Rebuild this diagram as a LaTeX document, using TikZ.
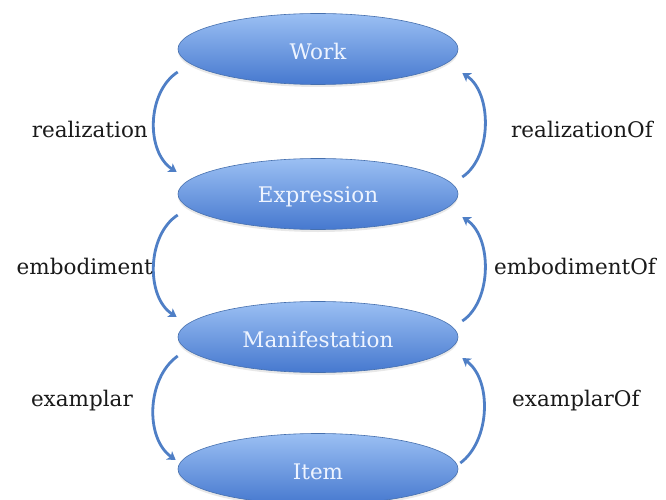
\documentclass[tikz,border=0pt]{standalone}
\usepackage{fontspec}
\setmainfont{DejaVu Serif}
\usetikzlibrary{shapes.geometric,arrows.meta,calc,shadows}
\definecolor{elltop}{HTML}{9BBFF3}
\definecolor{ellbot}{HTML}{4679CF}
\definecolor{elldraw}{HTML}{4670AE}
\definecolor{arrowc}{HTML}{4F7FC6}
\definecolor{txtin}{HTML}{EEF4FF}
\definecolor{txtout}{HTML}{1A1A1A}
\newcommand\lowtxt[1]{\raisebox{-2.5pt}[\height][\depth]{#1}}
\begin{document}
\begin{tikzpicture}[x=1pt,y=-1pt,
  entity/.style={ellipse, minimum width=280pt, minimum height=71pt, inner sep=0pt,
    top color=elltop, bottom color=ellbot, draw=elldraw, line width=0.6pt,
    text=txtin, font=\fontsize{21.5}{24}\selectfont,
    drop shadow={opacity=0.18, shadow xshift=0pt, shadow yshift=-2.5pt}},
  rel/.style={draw=arrowc, line width=2.8pt, -{Stealth[length=8pt,width=10pt,inset=2pt]}},
  lbl/.style={text=txtout, font=\fontsize{21.5}{24}\selectfont, inner sep=0pt}]
\useasboundingbox (0,0) rectangle (666,500);
\fill[white] (0,0) rectangle (666,500);

\node[entity] (work) at (318,49) {\lowtxt{Work}};
\node[entity] (expr) at (318,194) {\lowtxt{Expression}};
\node[entity] (mani) at (318,337) {\lowtxt{Manifestation}};
\node[entity] (item) at (318,469) {\lowtxt{Item}};

% realization / realizationOf
\coordinate (a1) at ($(work.west)+(0,23)$);
\coordinate (a2) at ($(expr.west)+(-1,-22)$);
\coordinate (b1) at ($(expr.east)+(4,-17)$);
\coordinate (b2) at ($(work.east)+(4,24)$);
\draw[rel] (a1) .. controls +(-31,20) and +(-31,-20) .. (a2);
\draw[rel] (b1) .. controls +(30,-20) and +(30,20) .. (b2);

% embodiment / embodimentOf
\coordinate (c1) at ($(expr.west)+(0,21)$);
\coordinate (c2) at ($(mani.west)+(-1,-20)$);
\coordinate (d1) at ($(mani.east)+(4,-16)$);
\coordinate (d2) at ($(expr.east)+(4,23)$);
\draw[rel] (c1) .. controls +(-31,20) and +(-31,-20) .. (c2);
\draw[rel] (d1) .. controls +(30,-20) and +(30,20) .. (d2);

% examplar / examplarOf
\coordinate (e1) at ($(mani.west)+(0,19)$);
\coordinate (e2) at ($(item.west)+(-2,-9)$);
\coordinate (f1) at ($(item.east)+(2,-6)$);
\coordinate (f2) at ($(mani.east)+(4,21)$);
\draw[rel] (e1) .. controls +(-31,22) and +(-31,-22) .. (e2);
\draw[rel] (f1) .. controls +(30,-22) and +(30,22) .. (f2);

\node[lbl, anchor=east] (l1) at (148,129) {realization};
\node[lbl, anchor=west] (r1) at (511,129) {realizationOf};
\node[lbl, anchor=east] (l2) at (153,266) {embodiment};
\node[lbl, anchor=west] (r2) at (494,266) {embodimentOf};
\node[lbl, anchor=east] (l3) at (133,401) {examplar};
\node[lbl, anchor=west] (r3) at (512,401) {examplarOf};
\end{tikzpicture}
\end{document}
